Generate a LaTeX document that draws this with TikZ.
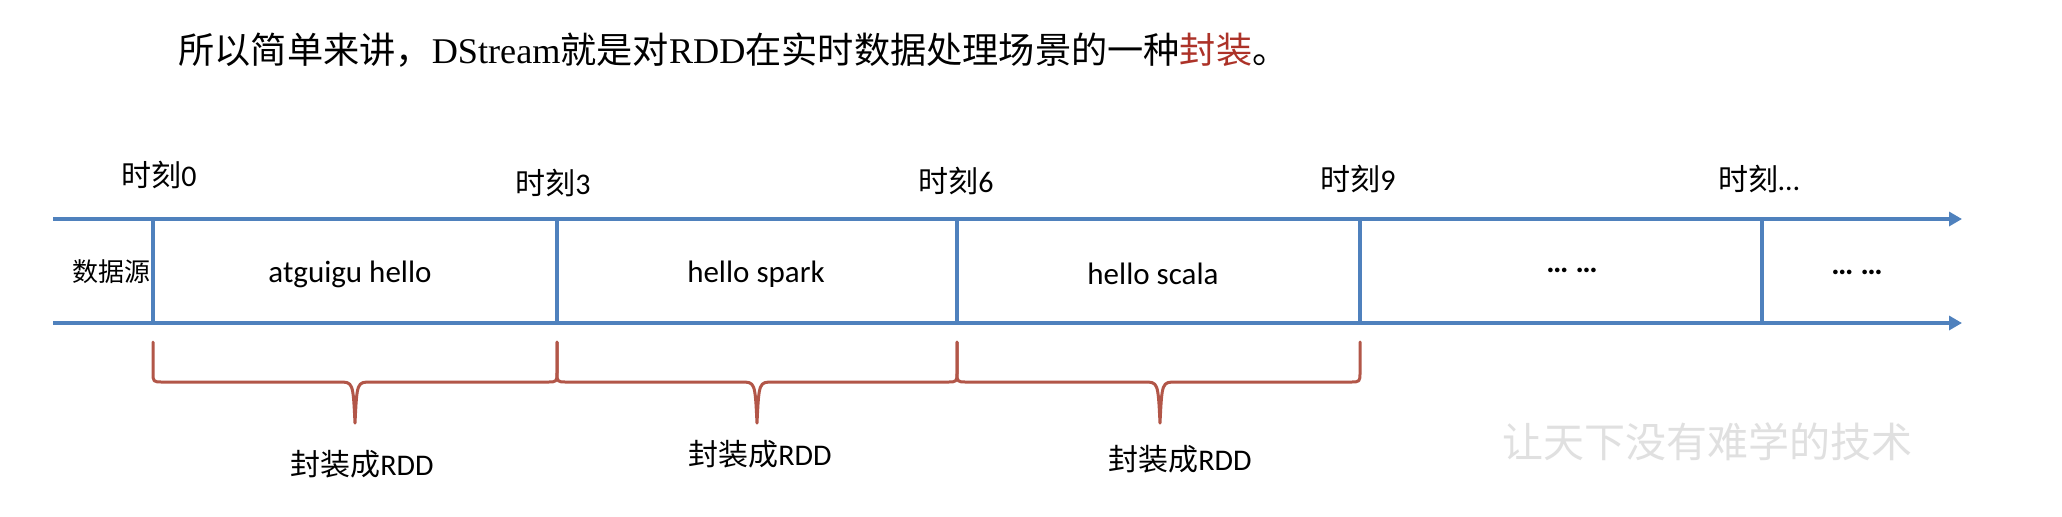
\documentclass[tikz,border=0pt]{standalone}
\usepackage{fontspec}
\setmainfont{Carlito}
\newfontfamily\cjk{Noto Sans CJK SC}
\newfontfamily\tnr{Liberation Serif}
\usetikzlibrary{arrows.meta}
\definecolor{axisblue}{RGB}{79,129,189}
\definecolor{bracered}{RGB}{178,86,72}
\definecolor{wrapred}{RGB}{172,50,40}
\definecolor{wmgray}{RGB}{224,224,224}
\begin{document}
\begin{tikzpicture}[x=0.5pt,y=-0.5pt,
  axis/.style={draw=axisblue,line width=2pt,-{Triangle[length=6.5pt,width=7pt]}},
  tick/.style={draw=axisblue,line width=1.8pt},
  brace/.style={draw=bracered,line width=1.5pt,line join=round,line cap=round},
  celltext/.style={font=\fontsize{15.5}{18}\selectfont,inner sep=0pt},
  timelabel/.style={font=\fontsize{15}{18}\selectfont,inner sep=0pt},
  bracelabel/.style={font=\fontsize{15}{18}\selectfont,inner sep=0pt}]
\useasboundingbox[fill=white] (0,0) rectangle (2062,516);

% title sentence
\node[anchor=west,inner sep=0pt,font=\fontsize{18.1}{22}\selectfont] (title) at (178,50)
  {{\cjk 所以简单来讲，}{\tnr DStream}{\cjk 就是对}{\tnr RDD}{\cjk 在实时数据处理场景的一种}{\cjk\color{wrapred}封装}{\cjk 。}};

% axes
\coordinate (A0) at (53,219);
\coordinate (A1) at (1962,219);
\coordinate (B0) at (53,323);
\coordinate (B1) at (1962,323);
\draw[axis] (A0) -- (A1);
\draw[axis] (B0) -- (B1);

% ticks
\foreach \x/\n in {153/1,557/2,957/3,1360/4,1762/5}{
  \coordinate (T\n) at (\x,219);
  \coordinate (U\n) at (\x,323);
  \draw[tick] (T\n) -- (U\n);
}

% source label
\node[font=\cjk\fontsize{13}{15}\selectfont,inner sep=0pt] (src) at (111,272) {数据源};

% cell texts
\node[celltext] (c1) at (350,274) {atguigu hello};
\node[celltext] (c2) at (756,274) {hello spark};
\node[celltext] (c3) at (1153,274) {hello scala};
\node[celltext,font=\bfseries\fontsize{15.5}{18}\selectfont] (c4) at (1572,270) {… …};
\node[celltext,font=\bfseries\fontsize{15.5}{18}\selectfont] (c5) at (1857,272) {… …};

% time labels
\node[timelabel] (l0) at (159,175) {{\cjk 时刻}0};
\node[timelabel] (l3) at (553,183) {{\cjk 时刻}3};
\node[timelabel] (l6) at (956,181) {{\cjk 时刻}6};
\node[timelabel] (l9) at (1358,179) {{\cjk 时刻}9};
\node[timelabel] (ln) at (1759,179) {{\cjk 时刻}…};

% braces
\foreach \a/\m/\b in {153/355/557,557/757/957,957/1160/1360}{
  \draw[brace] (\a,342) -- (\a,372) .. controls (\a,382) .. (\a+10,382)
     -- (\m-16,382) .. controls (\m-2,382) .. (\m,423)
     .. controls (\m+2,382) .. (\m+16,382)
     -- (\b-10,382) .. controls (\b,382) .. (\b,372) -- (\b,342);
}

% brace labels
\node[bracelabel] (r1) at (362,464) {{\cjk 封装成}RDD};
\node[bracelabel] (r2) at (760,454) {{\cjk 封装成}RDD};
\node[bracelabel] (r3) at (1180,459) {{\cjk 封装成}RDD};

% watermark
\node[font=\cjk\fontsize{20.5}{24}\selectfont,text=wmgray,inner sep=0pt] (wm) at (1707,442) {让天下没有难学的技术};
\end{tikzpicture}
\end{document}
